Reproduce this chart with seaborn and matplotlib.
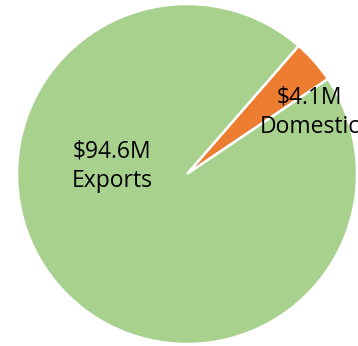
import matplotlib
matplotlib.use("Agg")
import matplotlib.pyplot as plt
import seaborn as sns

categories = ["Domestic", "Exports"]
values = [4.1, 94.6]  # $ millions
labels = ["$4.1M\nDomestic", "$94.6M\nExports"]
colors = ["#ED7D31", "#A9D18E"]

sns.set_theme(style="white")
plt.rcParams["font.family"] = ["Open Sans", "DejaVu Sans"]

fig = plt.figure(figsize=(3.58, 3.46), dpi=100)
ax = fig.add_axes([0, 0, 1, 1])
ax.pie(values, colors=colors, startangle=34, counterclock=True,
       radius=1.0, wedgeprops=dict(edgecolor="white", linewidth=1.8))

# label positions inside the pie (radius units)
label_pos = [(0.72, 0.365), (-0.44, 0.047)]
for (x, y), lab in zip(label_pos, labels):
    ax.text(x, y, lab, ha="center", va="center", fontsize=16.5,
            color="black", linespacing=1.3)

ax.set_xlim(-187 / 170, 171 / 170)
ax.set_ylim(-172 / 170, 174 / 170)
ax.set_aspect("equal")
ax.axis("off")
fig.savefig("out.png", dpi=100)
